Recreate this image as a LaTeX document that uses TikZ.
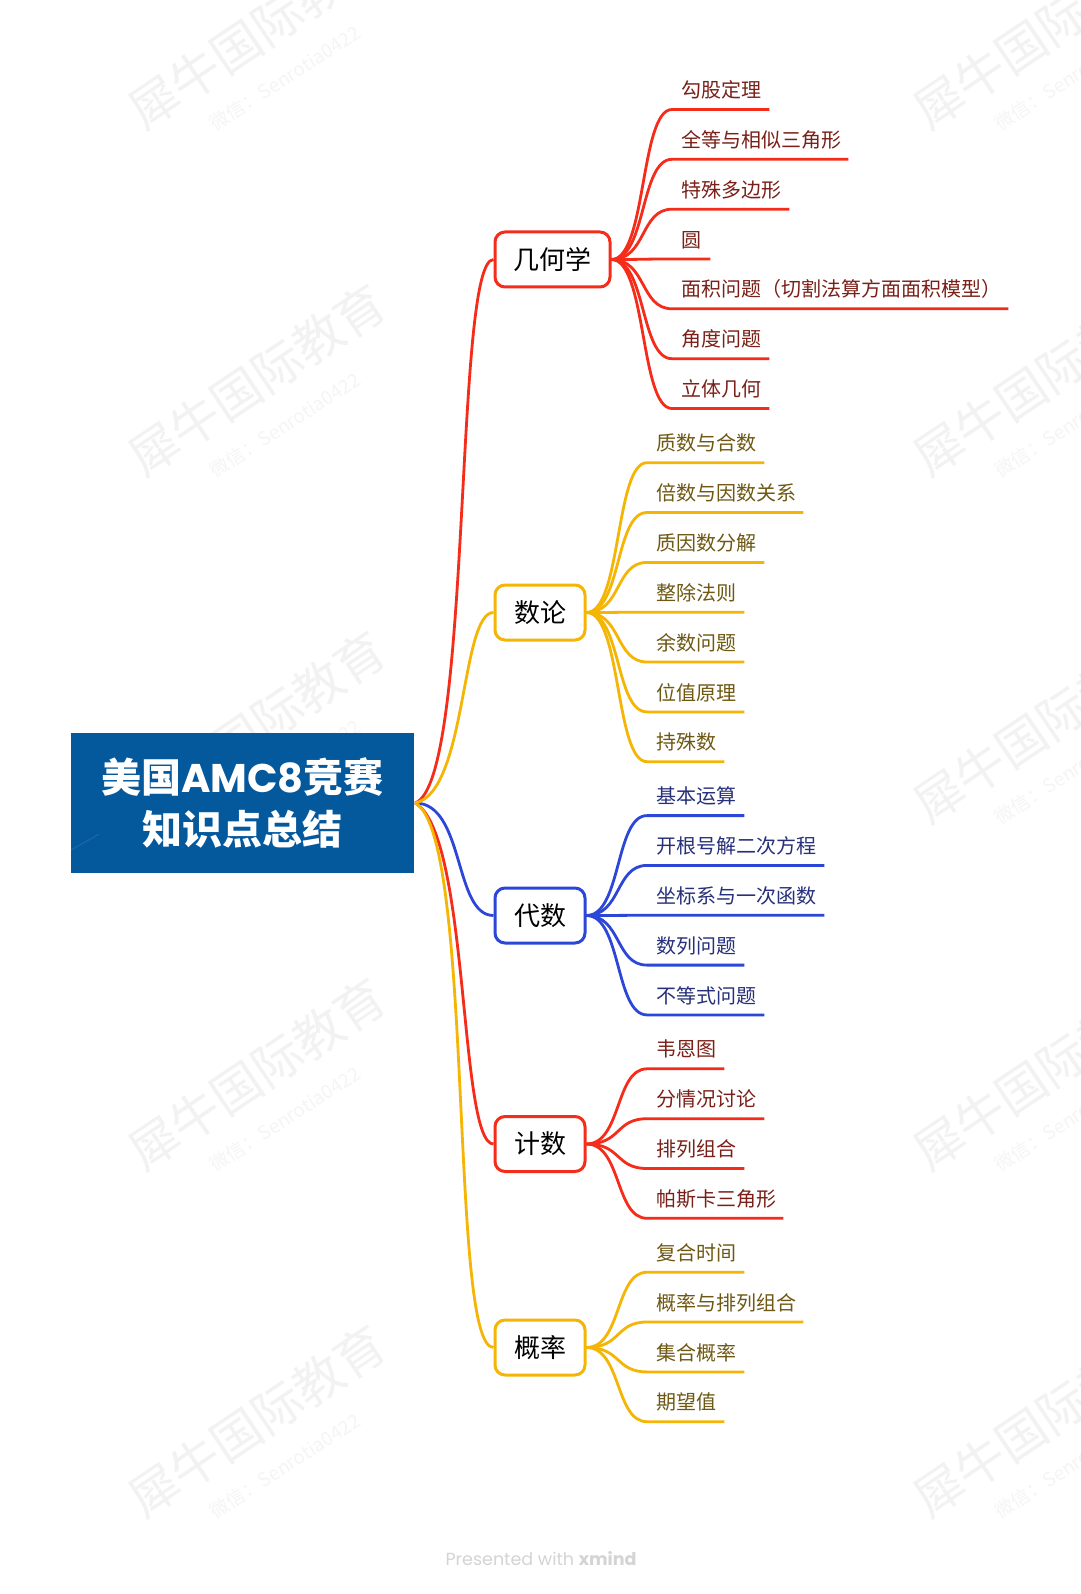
\documentclass[tikz,border=0pt]{standalone}
\usepackage{fontspec}
\setmainfont{Noto Sans CJK SC}
\newfontfamily\popf{Poppins}
\definecolor{cred}{HTML}{F52C1A}
\definecolor{cgold}{HTML}{F5B505}
\definecolor{cblue}{HTML}{2C46D8}
\definecolor{tred}{HTML}{7A2018}
\definecolor{tgold}{HTML}{6E5812}
\definecolor{tblue}{HTML}{27307A}
\definecolor{rootblue}{HTML}{04589C}
\definecolor{wm}{HTML}{F2F2F2}
\definecolor{wmtwo}{HTML}{F5F5F5}
\tikzset{
  rootbox/.style={fill=rootblue,draw=none,minimum width=343pt,minimum height=140pt,inner sep=0pt,text=white,align=center,font=\fontsize{40}{52}\selectfont\bfseries},
  topicbox/.style={draw=#1,fill=white,line width=3pt,rounded corners=10pt,minimum height=55pt,inner sep=0pt,text=black,font=\fontsize{26}{30}\selectfont},
  subtext/.style={anchor=south west,inner sep=0pt,text depth=11.7pt,text height=20pt,align=left,font=\fontsize{20}{24}\selectfont},
  rootlink/.style={draw=#1,line width=2.8pt},
  sublink/.style={draw=#1,line width=2.8pt},
  wmbig/.style={text=wm,rotate=34,font=\fontsize{49.5}{56}\selectfont},
  wmsmall/.style={text=wmtwo,rotate=33,font=\fontsize{19}{22}\selectfont},
}
% name, y, xstart, xend, text colour, text
\newcommand{\leafitem}[6]{%
  \pgfmathsetmacro{\subw}{#4-#3}%
  \node[subtext,text=#5,text width=\subw pt] (#1) at (#3,#2) {\hspace*{9.3pt}#6};%
}
\newcommand{\wmark}[2]{%
  \node[wmbig] (wb#1#2) at (#1,#2) {犀牛国际教育};%
  \node[wmsmall] (ws#1#2) at ([shift={(28,45)}]#1,#2) {微信：Senrotia0422};%
}
\begin{document}
\begin{tikzpicture}[x=1pt,y=-1pt]
\useasboundingbox (0,0) rectangle (1080,1594);
\clip (0,0) rectangle (1080,1594);
\fill[white] (0,0) rectangle (1080,1594);
% watermarks
\foreach \wy in {33,380,727,1074,1421}{\wmark{257}{\wy}\wmark{1042}{\wy}}
\node (xm) at (541,1559) {\popf\fontsize{17.5}{22}\selectfont\color{black!17}Presented with \bfseries xmind};

% nodes
\node[rootbox] (root) at (242.5,803) {\setlength{\baselineskip}{52pt}美国{\popf AMC8}竞赛\\知识点总结};
\draw[white,opacity=.1,line width=1pt] (root.south west) ++(0,-23) -- ++(28,-16);
\coordinate (rootout) at (415,803);
\node[topicbox=cred,minimum width=115pt] (geo) at (552.5,259.5) {几何学};
\node[topicbox=cgold,minimum width=90pt] (num) at (540,612.5) {数论};
\node[topicbox=cblue,minimum width=90pt] (alg) at (540,915.5) {代数};
\node[topicbox=cred,minimum width=90pt] (cnt) at (540,1144) {计数};
\node[topicbox=cgold,minimum width=90pt] (pro) at (540,1347.5) {概率};

% sub items
\leafitem{g1}{109.5}{672}{769}{tred}{勾股定理}
\leafitem{g2}{159.3}{672}{848}{tred}{全等与相似三角形}
\leafitem{g3}{209.2}{672}{789}{tred}{特殊多边形}
\leafitem{g4}{259}{672}{710}{tred}{圆}
\leafitem{g5}{308.8}{672}{1008}{tred}{面积问题（切割法算方面面积模型）}
\leafitem{g6}{358.7}{672}{769}{tred}{角度问题}
\leafitem{g7}{408.5}{672}{769}{tred}{立体几何}

\leafitem{n1}{462.7}{647}{764}{tgold}{质数与合数}
\leafitem{n2}{512.5}{647}{803}{tgold}{倍数与因数关系}
\leafitem{n3}{562.4}{647}{764}{tgold}{质因数分解}
\leafitem{n4}{612.2}{647}{744}{tgold}{整除法则}
\leafitem{n5}{662}{647}{744}{tgold}{余数问题}
\leafitem{n6}{711.9}{647}{744}{tgold}{位值原理}
\leafitem{n7}{761.7}{647}{724}{tgold}{持殊数}

\leafitem{a1}{815.6}{647}{744}{tblue}{基本运算}
\leafitem{a2}{865.4}{647}{824}{tblue}{开根号解二次方程}
\leafitem{a3}{915.3}{647}{824}{tblue}{坐标系与一次函数}
\leafitem{a4}{965.1}{647}{744}{tblue}{数列问题}
\leafitem{a5}{1014.9}{647}{764}{tblue}{不等式问题}

\leafitem{c1}{1068.8}{647}{724}{tred}{韦恩图}
\leafitem{c2}{1118.7}{647}{764}{tred}{分情况讨论}
\leafitem{c3}{1168.5}{647}{744}{tred}{排列组合}
\leafitem{c4}{1218.3}{647}{783}{tred}{帕斯卡三角形}

\leafitem{p1}{1272.2}{647}{744}{tgold}{复合时间}
\leafitem{p2}{1322}{647}{803}{tgold}{概率与排列组合}
\leafitem{p3}{1371.9}{647}{744}{tgold}{集合概率}
\leafitem{p4}{1421.7}{647}{724}{tgold}{期望值}

% sub connectors
\foreach \n in {g1,g2,g3,g4,g5,g6,g7}{
  \draw[sublink=cred] (geo.east) .. controls +(35,0) and +(-32,0) .. (\n.south west) -- (\n.south east);}
\foreach \n in {n1,n2,n3,n4,n5,n6,n7}{
  \draw[sublink=cgold] (num.east) .. controls +(35,0) and +(-32,0) .. (\n.south west) -- (\n.south east);}
\foreach \n in {a1,a2,a3,a4,a5}{
  \draw[sublink=cblue] (alg.east) .. controls +(35,0) and +(-32,0) .. (\n.south west) -- (\n.south east);}
\foreach \n in {c1,c2,c3,c4}{
  \draw[sublink=cred] (cnt.east) .. controls +(35,0) and +(-32,0) .. (\n.south west) -- (\n.south east);}
\foreach \n in {p1,p2,p3,p4}{
  \draw[sublink=cgold] (pro.east) .. controls +(35,0) and +(-32,0) .. (\n.south west) -- (\n.south east);}

% root connectors
\draw[rootlink=cblue] (rootout) .. controls +(50,0) and +(-40,0) .. (alg.west);
\draw[rootlink=cred] (rootout) .. controls +(58,-20) and +(-40,0) .. (geo.west);
\draw[rootlink=cred] (rootout) .. controls +(55,30) and +(-35,0) .. (cnt.west);
\draw[rootlink=cgold] (rootout) .. controls +(52,-10) and +(-33,0) .. (num.west);
\draw[rootlink=cgold] (rootout) .. controls +(60,30) and +(-45,0) .. (pro.west);
\end{tikzpicture}
\end{document}
